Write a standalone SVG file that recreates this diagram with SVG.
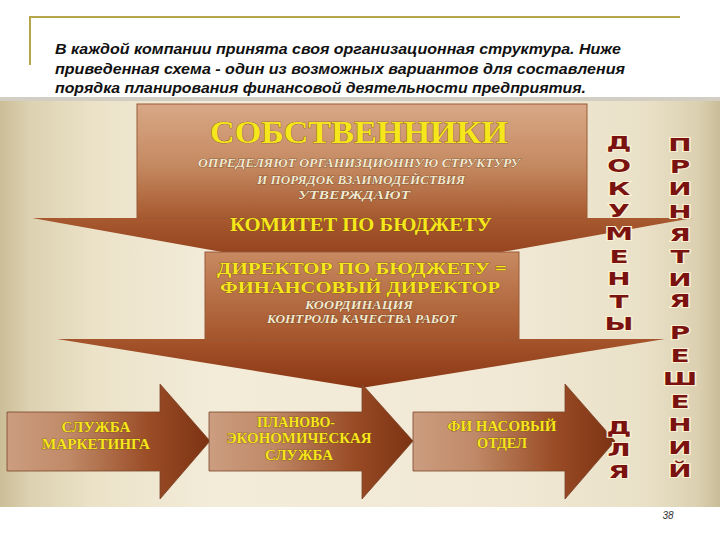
<svg xmlns="http://www.w3.org/2000/svg" width="720" height="540" viewBox="0 0 720 540">
<defs>
<linearGradient id="bg" x1="0" y1="0" x2="1" y2="0">
<stop offset="0" stop-color="#cbbd96"/><stop offset="0.04" stop-color="#dcd1b0"/><stop offset="0.13" stop-color="#ebe2c8"/><stop offset="0.3" stop-color="#f3ecd9"/><stop offset="0.7" stop-color="#f1e9d5"/><stop offset="0.9" stop-color="#e9e0c7"/><stop offset="0.97" stop-color="#dbd0b0"/><stop offset="1" stop-color="#c9bc98"/>
</linearGradient>
<linearGradient id="g1" gradientUnits="userSpaceOnUse" x1="0" y1="104" x2="0" y2="277">
<stop offset="0" stop-color="#d8a886"/><stop offset="0.35" stop-color="#c58a62"/><stop offset="0.65" stop-color="#a85a30"/><stop offset="1" stop-color="#8a3614"/>
</linearGradient>
<linearGradient id="g2" gradientUnits="userSpaceOnUse" x1="0" y1="252" x2="0" y2="388">
<stop offset="0" stop-color="#c88a62"/><stop offset="0.6" stop-color="#a8582e"/><stop offset="1" stop-color="#8a3614"/>
</linearGradient>
<linearGradient id="ga" x1="0" y1="0" x2="1" y2="0">
<stop offset="0" stop-color="#cc9d80"/><stop offset="0.3" stop-color="#c08a68"/><stop offset="0.7" stop-color="#9a4c26"/><stop offset="1" stop-color="#7c3212"/>
</linearGradient>
</defs>
<style>
.hd{font-family:"Liberation Sans",Arial,sans-serif;font-weight:bold;font-style:italic;font-size:14px;fill:#111}
.y{font-family:"Liberation Serif","Times New Roman",serif;font-weight:bold;fill:#f6e61c;stroke:#7a4a12;stroke-width:0.7;paint-order:stroke;text-anchor:middle}
.c{font-family:"Liberation Serif","Times New Roman",serif;font-weight:bold;font-style:italic;font-size:12px;fill:#f2ead0;stroke:#6a3a1a;stroke-width:0.6;paint-order:stroke;text-anchor:middle}
.v{font-family:"DejaVu Sans",sans-serif;font-weight:bold;font-size:18px;fill:#7a1210;stroke:#fbf1d2;stroke-width:2;paint-order:stroke;text-anchor:middle}
.arr{fill:url(#ga);stroke:#7a4428;stroke-width:0.8}
</style>
<rect x="0" y="0" width="720" height="540" fill="#ffffff"/>
<g id="header">
<path d="M30,65 V17 H680" fill="none" stroke="#b5a64a" stroke-width="2"/>
<text class="hd" x="55" y="54" textLength="566" lengthAdjust="spacingAndGlyphs">В каждой компании принята своя организационная структура. Ниже</text>
<text class="hd" x="55" y="74" textLength="570" lengthAdjust="spacingAndGlyphs">приведенная схема - один из возможных вариантов для составления</text>
<text class="hd" x="55" y="93" textLength="531" lengthAdjust="spacingAndGlyphs">порядка планирования финансовой деятельности предприятия.</text>
</g>
<rect x="0" y="97" width="720" height="410" fill="url(#bg)"/>
<rect x="0" y="97" width="720" height="4" fill="#d3cec4"/>
<g id="owners">
<polygon points="137,104 587,104 587,218 693,218 362,277 32,218 137,218" fill="url(#g1)"/>
<rect x="137" y="104" width="450" height="114" fill="none" stroke="#9a5a38" stroke-width="1"/>
<text class="y" x="359" y="143" font-size="32" textLength="298" lengthAdjust="spacingAndGlyphs">СОБСТВЕННИКИ</text>
<text class="c" x="359" y="167" textLength="322" lengthAdjust="spacingAndGlyphs">ОПРЕДЕЛЯЮТ ОРГАНИЗЦИОННУЮ СТРУКТУРУ</text>
<text class="c" x="361" y="184" textLength="208" lengthAdjust="spacingAndGlyphs">И ПОРЯДОК ВЗАИМОДЕЙСТВИЯ</text>
<text class="c" x="354" y="199" textLength="112" lengthAdjust="spacingAndGlyphs">УТВЕРЖДАЮТ</text>
<text class="y" x="361" y="231" font-size="18" textLength="262" lengthAdjust="spacingAndGlyphs">КОМИТЕТ ПО БЮДЖЕТУ</text>
</g>
<g id="director">
<polygon points="205,252 519,252 519,339 665,339 361,388 57,339 205,339" fill="url(#g2)"/>
<rect x="205" y="252" width="314" height="87" fill="none" stroke="#9a5a38" stroke-width="1"/>
<text class="y" x="362" y="274" font-size="17" textLength="290" lengthAdjust="spacingAndGlyphs">ДИРЕКТОР ПО БЮДЖЕТУ =</text>
<text class="y" x="360" y="293" font-size="17" textLength="280" lengthAdjust="spacingAndGlyphs">ФИНАНСОВЫЙ ДИРЕКТОР</text>
<text class="c" x="359" y="309" font-size="11" textLength="108" lengthAdjust="spacingAndGlyphs">КООРДИНАЦИЯ</text>
<text class="c" x="362" y="323" font-size="11" textLength="190" lengthAdjust="spacingAndGlyphs">КОНТРОЛЬ КАЧЕСТВА РАБОТ</text>
</g>
<g id="marketing">
<polygon class="arr" points="7,412 160,412 160,384 210,441 160,499 160,471 7,471"/>
<text class="y" x="96" y="432" font-size="14" textLength="69" lengthAdjust="spacingAndGlyphs">СЛУЖБА</text>
<text class="y" x="96" y="449" font-size="14" textLength="108" lengthAdjust="spacingAndGlyphs">МАРКЕТИНГА</text>
</g>
<g id="planning">
<polygon class="arr" points="209,412 362,412 362,384 413,441 362,499 362,471 209,471"/>
<text class="y" x="296" y="427" font-size="14" textLength="78" lengthAdjust="spacingAndGlyphs">ПЛАНОВО-</text>
<text class="y" x="299" y="443" font-size="14" textLength="145" lengthAdjust="spacingAndGlyphs">ЭКОНОМИЧЕСКАЯ</text>
<text class="y" x="299" y="460" font-size="14" textLength="68" lengthAdjust="spacingAndGlyphs">СЛУЖБА</text>
</g>
<g id="finance">
<polygon class="arr" points="413,412 565,412 565,384 615,441 565,499 565,471 413,471"/>
<text class="y" x="502" y="431" font-size="14" textLength="109" lengthAdjust="spacingAndGlyphs">ФИ НАСОВЫЙ</text>
<text class="y" x="502" y="448" font-size="14" textLength="50" lengthAdjust="spacingAndGlyphs">ОТДЕЛ</text>
</g>
<g id="docs" transform="translate(619 0) scale(1.55 1)">
<text class="v" x="0" y="149.5">Д</text><text class="v" x="0" y="172">О</text><text class="v" x="0" y="195">К</text><text class="v" x="0" y="217.5">У</text><text class="v" x="0" y="240">М</text><text class="v" x="0" y="263">Е</text><text class="v" x="0" y="285.5">Н</text><text class="v" x="0" y="308">Т</text><text class="v" x="0" y="330.5">Ы</text>
<text class="v" x="0" y="434.5">Д</text><text class="v" x="0" y="456.5">Л</text><text class="v" x="0" y="478.5">Я</text>
</g>
<g id="decisions" transform="translate(680 0) scale(1.55 1)">
<text class="v" x="0" y="151.5">П</text><text class="v" x="0" y="173.5">Р</text><text class="v" x="0" y="195.5">И</text><text class="v" x="0" y="218">Н</text><text class="v" x="0" y="241">Я</text><text class="v" x="0" y="263.5">Т</text><text class="v" x="0" y="286">И</text><text class="v" x="0" y="307.5">Я</text>
<text class="v" x="0" y="339.5">Р</text><text class="v" x="0" y="362.5">Е</text><text class="v" x="0" y="385.5">Ш</text><text class="v" x="0" y="408.5">Е</text><text class="v" x="0" y="431.5">Н</text><text class="v" x="0" y="454.5">И</text><text class="v" x="0" y="477.5">Й</text>
</g>
<text x="668" y="519" font-family="Liberation Sans,Arial,sans-serif" font-style="italic" font-size="10" fill="#333" text-anchor="middle">38</text>
</svg>
